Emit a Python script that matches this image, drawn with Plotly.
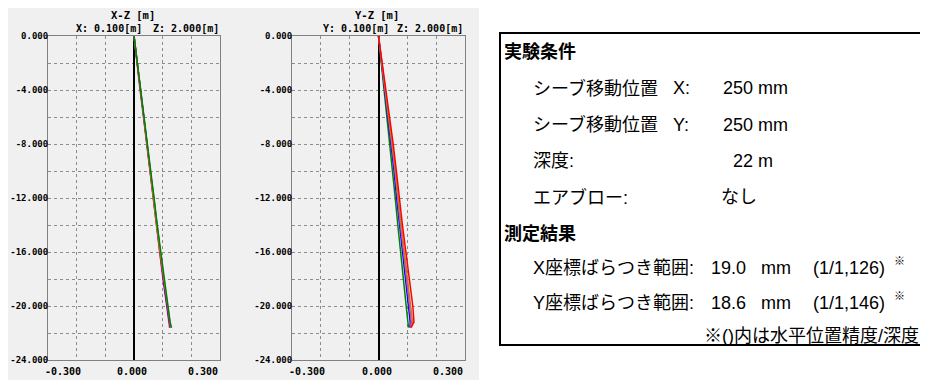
import plotly.graph_objects as go

# the page body keeps an 8px margin: the figure is 8px smaller and all pixel positions shift by 8
OFF = 8
W, H = 928 - OFF, 380 - OFF

# ---------------- data ----------------
depth = [0, -2, -4, -6, -8, -10, -12, -14, -16, -18, -20, -21.2, -21.6]

xz_magenta = [0, 0.010, 0.021, 0.033, 0.044, 0.055, 0.066, 0.077, 0.089, 0.101, 0.114, 0.121, 0.124]
xz_red     = [0, 0.011, 0.022, 0.034, 0.045, 0.056, 0.067, 0.078, 0.090, 0.102, 0.115, 0.122, 0.126]
xz_blue    = [0, 0.011, 0.022, 0.034, 0.046, 0.057, 0.069, 0.080, 0.091, 0.103, 0.116, 0.124, 0.127]
xz_orange  = [0, 0.011, 0.023, 0.035, 0.046, 0.057, 0.068, 0.079, 0.091, 0.104, 0.117, 0.124, 0.128]
xz_green   = [0, 0.012, 0.024, 0.036, 0.047, 0.059, 0.070, 0.081, 0.093, 0.105, 0.118, 0.126, 0.131]

yz_green   = [0, 0.010, 0.020, 0.030, 0.040, 0.050, 0.058, 0.067, 0.076, 0.086, 0.096, 0.102, 0.104]
yz_blue    = [0, 0.011, 0.022, 0.033, 0.044, 0.054, 0.063, 0.073, 0.083, 0.094, 0.104, 0.110, 0.109]
yz_magenta = [0, 0.012, 0.024, 0.035, 0.046, 0.057, 0.066, 0.076, 0.087, 0.098, 0.109, 0.114, 0.111]
yz_orange  = [0, 0.012, 0.025, 0.037, 0.048, 0.059, 0.068, 0.079, 0.090, 0.102, 0.113, 0.118, 0.114]
yz_red     = [0, 0.013, 0.026, 0.039, 0.051, 0.062, 0.072, 0.083, 0.095, 0.108, 0.119, 0.123, 0.112]

x_grid = [-0.3, -0.2, -0.1, 0.0, 0.1, 0.2, 0.3]
x_label_vals = [-0.3, 0.0, 0.3]
x_label_text = ["-0.300", "0.000", "0.300"]
y_grid = [0, -2, -4, -6, -8, -10, -12, -14, -16, -18, -20, -22, -24]
y_label_text = ["0.000", "", "-4.000", "", "-8.000", "", "-12.000", "", "-16.000", "", "-20.000", "", "-24.000"]

colors = {"magenta": "#c040d0", "red": "#ff0000", "blue": "#0000ff", "orange": "#c08020", "green": "#008000"}

# ---------------- figure ----------------
fig = go.Figure()

def px_x(p):
    return (p - OFF) / W

def px_y(p):
    return 1 - (p - OFF) / H

xz_series = [("magenta", xz_magenta), ("red", xz_red), ("blue", xz_blue), ("orange", xz_orange), ("green", xz_green)]
yz_series = [("green", yz_green), ("blue", yz_blue), ("magenta", yz_magenta), ("orange", yz_orange), ("red", yz_red)]

for name, vals in xz_series:
    fig.add_trace(go.Scatter(x=vals, y=depth, mode="lines", line=dict(color=colors[name], width=1.5),
                             xaxis="x", yaxis="y", showlegend=False, hoverinfo="skip"))
for name, vals in yz_series:
    fig.add_trace(go.Scatter(x=vals, y=depth, mode="lines", line=dict(color=colors[name], width=1.5),
                             xaxis="x2", yaxis="y2", showlegend=False, hoverinfo="skip"))

mono = dict(family="DejaVu Sans Mono", size=10, color="black", weight="bold")
ymono = dict(family="DejaVu Sans Mono", size=9, color="black", weight="bold")

xcommon = dict(range=[-0.3, 0.3], tickvals=x_grid, showticklabels=False, ticks="", automargin=False,
               showgrid=True, gridcolor="#8c8c8c", griddash="dot", gridwidth=1,
               zeroline=True, zerolinecolor="black", zerolinewidth=2,
               showline=True, linecolor="#808080", linewidth=1, mirror=True, fixedrange=True)
ycommon = dict(range=[-24, 0], tickvals=y_grid, ticktext=y_label_text, ticks="", automargin=False,
               showgrid=True, gridcolor="#8c8c8c", griddash="dot", gridwidth=1,
               zeroline=False, tickfont=ymono, ticklabelstandoff=-3,
               showline=True, linecolor="#808080", linewidth=1, mirror=True, fixedrange=True)

fig.update_layout(
    width=W, height=H, autosize=False,
    margin=dict(l=0, r=0, t=0, b=0, pad=0, autoexpand=False),
    paper_bgcolor="white", plot_bgcolor="white",
    xaxis=dict(domain=[px_x(48), px_x(220)], anchor="y", **xcommon),
    yaxis=dict(domain=[px_y(360), px_y(36)], anchor="x", **ycommon),
    xaxis2=dict(domain=[px_x(292), px_x(465)], anchor="y2", **xcommon),
    yaxis2=dict(domain=[px_y(360), px_y(36)], anchor="x2", **ycommon),
)

shapes = [
    dict(type="rect", xref="paper", yref="paper", x0=0, x1=px_x(479), y0=0, y1=1,
         fillcolor="#f0f0f0", line=dict(width=0), layer="below"),
    dict(type="rect", xref="paper", yref="paper", x0=px_x(500), x1=px_x(923), y0=px_y(345), y1=px_y(33),
         fillcolor="rgba(0,0,0,0)", line=dict(color="black", width=2)),
]
fig.update_layout(shapes=shapes)

ann = []
# x tick labels
for xr in ("x", "x2"):
    for v, t in zip(x_label_vals, x_label_text):
        if v < 0:
            anchor, shift = "left", -5
        elif v > 0:
            anchor, shift = "right", 0
        else:
            anchor, shift = "center", -2
        ann.append(dict(text=t, xref=xr, x=v, yref="paper", y=px_y(371), xanchor=anchor, yanchor="middle",
                        xshift=shift, showarrow=False, font=mono))

title_font = dict(family="DejaVu Sans Mono", size=10.5, color="black", weight="bold")
sub_font = dict(family="DejaVu Sans Mono", size=10, color="black", weight="bold")
for cx, title, lx, ltxt, rx in ((133, "X-Z [m]", 75, "X: 0.100[m]", 220), (377, "Y-Z [m]", 322, "Y: 0.100[m]", 464)):
    ann.append(dict(text=title, xref="paper", yref="paper", x=px_x(cx), y=px_y(8), xanchor="center",
                    yanchor="top", showarrow=False, font=title_font, borderpad=0))
    ann.append(dict(text=ltxt, xref="paper", yref="paper", x=px_x(lx), y=px_y(28.5), xanchor="left",
                    yanchor="middle", showarrow=False, font=sub_font, borderpad=0))
    ann.append(dict(text="Z: 2.000[m]", xref="paper", yref="paper", x=px_x(rx), y=px_y(28.5), xanchor="right",
                    yanchor="middle", showarrow=False, font=sub_font, borderpad=0))

jp = "Liberation Sans, Noto Sans CJK JP"
reg = dict(family=jp, size=18, color="black")
bold = dict(family="Noto Sans CJK JP", size=18, color="black", weight="bold")
sup = dict(family=jp, size=11, color="black")

def t(text, x, y, font=reg, anchor="left"):
    ann.append(dict(text=text, xref="paper", yref="paper", x=px_x(x), y=px_y(y), xanchor=anchor,
                    yanchor="middle", showarrow=False, font=font))

t("実験条件", 502, 50, bold)
t("シーブ移動位置", 531, 88)
t("X:", 671, 88)
t("250 mm", 721, 88)
t("シーブ移動位置", 531, 125)
t("Y:", 671, 125)
t("250 mm", 721, 125)
t("深度:", 531, 161)
t("22 m", 731, 161)
t("エアブロー:", 531, 197)
t("なし", 719, 197)
t("測定結果", 502, 232, bold)
t("X座標ばらつき範囲:", 531, 268)
t("19.0", 709, 268)
t("mm", 759, 268)
t("(1/1,126)", 811, 268)
t("※", 892, 261, sup)
t("Y座標ばらつき範囲:", 531, 303)
t("18.6", 709, 303)
t("mm", 759, 303)
t("(1/1,146)", 811, 303)
t("※", 892, 296, sup)
t("※()内は水平位置精度/深度", 921, 336, anchor="right")

fig.update_layout(annotations=ann)

fig.write_html("out.html")
